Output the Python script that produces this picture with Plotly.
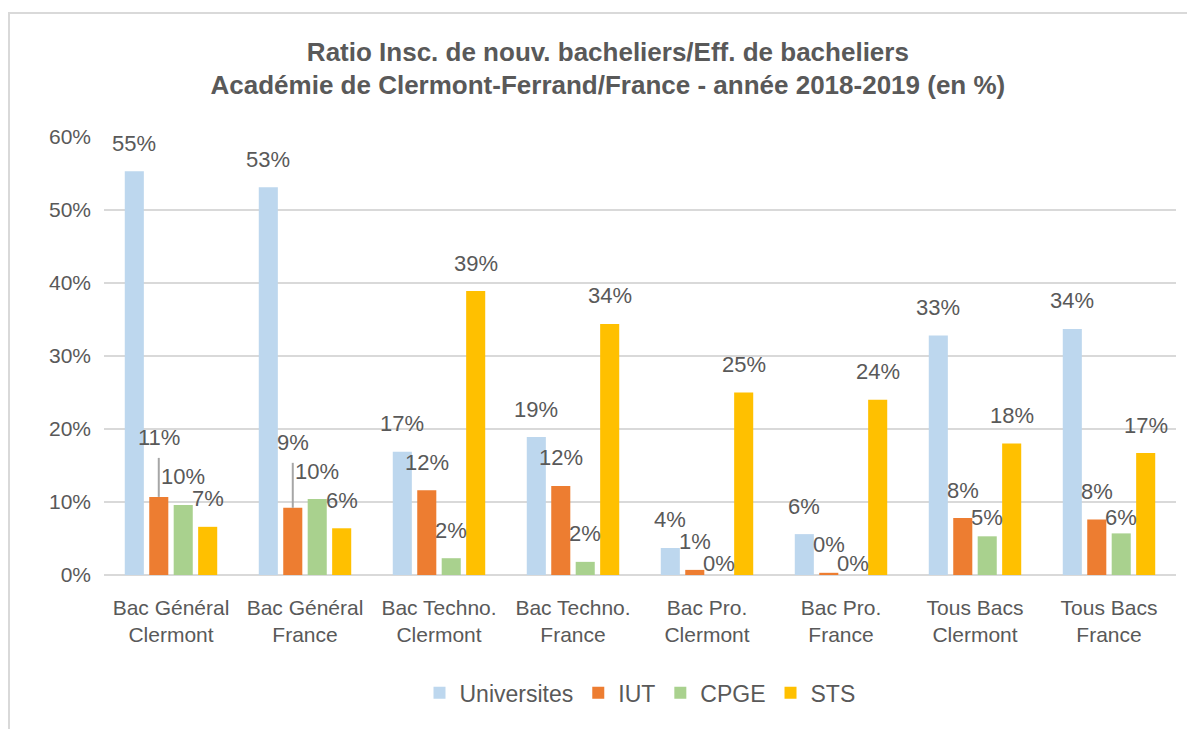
import plotly.graph_objects as go

categories = ["Bac Général<br>Clermont", "Bac Général<br>France", "Bac Techno.<br>Clermont",
              "Bac Techno.<br>France", "Bac Pro.<br>Clermont", "Bac Pro.<br>France",
              "Tous Bacs<br>Clermont", "Tous Bacs<br>France"]
universites = [55.3, 53.1, 16.9, 18.9, 3.7, 5.6, 32.8, 33.7]
iut = [10.7, 9.2, 11.6, 12.2, 0.7, 0.3, 7.8, 7.6]
cpge = [9.6, 10.4, 2.3, 1.8, 0.0, 0.0, 5.3, 5.7]
sts = [6.6, 6.4, 38.9, 34.4, 25.0, 24.0, 18.0, 16.7]
series_names = ["Universites", "IUT", "CPGE", "STS"]
y_ticks = [0, 10, 20, 30, 40, 50, 60]
y_tick_labels = ["0%", "10%", "20%", "30%", "40%", "50%", "60%"]

series_values = [universites, iut, cpge, sts]
colors = ["#BDD7EE", "#ED7D31", "#A9D18E", "#FFC000"]
TXT = "#595959"
FONT = "Liberation Sans"
BARGAP = 0.27
BARGROUPGAP = 0.22

# label vertical offsets in px (style), default above bar top
DEFAULT_SHIFT = 28
shift_override = {(1, 0): 59, (1, 1): 65, (2, 4): 12, (2, 5): 12, (2, 6): 19, (2, 7): 16}
leader_lines = {(1, 0): 39, (1, 1): 45}

fig = go.Figure()
for name, vals, col in zip(series_names, series_values, colors):
    fig.add_trace(go.Bar(name=name, x=categories, y=vals, marker_color=col,
                         marker_line_width=0))

n = len(series_names)
step = (1 - BARGAP) / n
annotations = []
shapes = []
for i, vals in enumerate(series_values):
    for j, v in enumerate(vals):
        xpos = j + (i - (n - 1) / 2) * step
        annotations.append(dict(x=xpos, y=v, xref="x", yref="y", text=f"{v:.0f}%",
                                showarrow=False, yshift=shift_override.get((i, j), DEFAULT_SHIFT),
                                font=dict(family=FONT, size=22, color=TXT)))
        if (i, j) in leader_lines:
            shapes.append(dict(type="line", xref="x", yref="y", x0=xpos, x1=xpos,
                               ysizemode="pixel", yanchor=v, y0=0, y1=leader_lines[(i, j)],
                               line=dict(color="#A6A6A6", width=2)))

# chart border (left and top edges visible; right/bottom run off the picture)
shapes.append(dict(type="rect", xref="paper", yref="paper", x0=-0.0886, x1=1.2,
                   y0=-0.6, y1=1.283, line=dict(color="#D9D9D9", width=2),
                   fillcolor="rgba(0,0,0,0)", layer="below"))

fig.update_layout(
    width=1195, height=729, autosize=False,
    margin=dict(l=96, r=27, t=129, b=162),
    paper_bgcolor="white", plot_bgcolor="white",
    barmode="group", bargap=BARGAP, bargroupgap=BARGROUPGAP,
    title=dict(text="Ratio Insc. de nouv. bacheliers/Eff. de bacheliers<br>"
                    "Académie de Clermont-Ferrand/France - année 2018-2019 (en %)",
               x=0.502, xanchor="center", xref="container",
               y=1 - 52.5 / 729, yanchor="middle", yref="container",
               font=dict(family=FONT, size=26, color=TXT, weight="bold")),
    xaxis=dict(tickfont=dict(family=FONT, size=21, color=TXT), showgrid=False,
               showline=False, ticks="", ticklabelstandoff=18),
    yaxis=dict(range=[0, 60], tickvals=y_ticks, ticktext=y_tick_labels,
               tickfont=dict(family=FONT, size=21, color=TXT),
               gridcolor="#D9D9D9", gridwidth=2, zeroline=True, zerolinecolor="#D9D9D9",
               zerolinewidth=2, showline=False, ticklabelstandoff=12),
    legend=dict(orientation="h", x=0.5, xanchor="center", xref="paper",
                y=-0.269, yanchor="middle", font=dict(family=FONT, size=23, color=TXT),
                itemwidth=30, traceorder="normal"),
    annotations=annotations, shapes=shapes,
    showlegend=True,
)

fig.write_html("out.html")
